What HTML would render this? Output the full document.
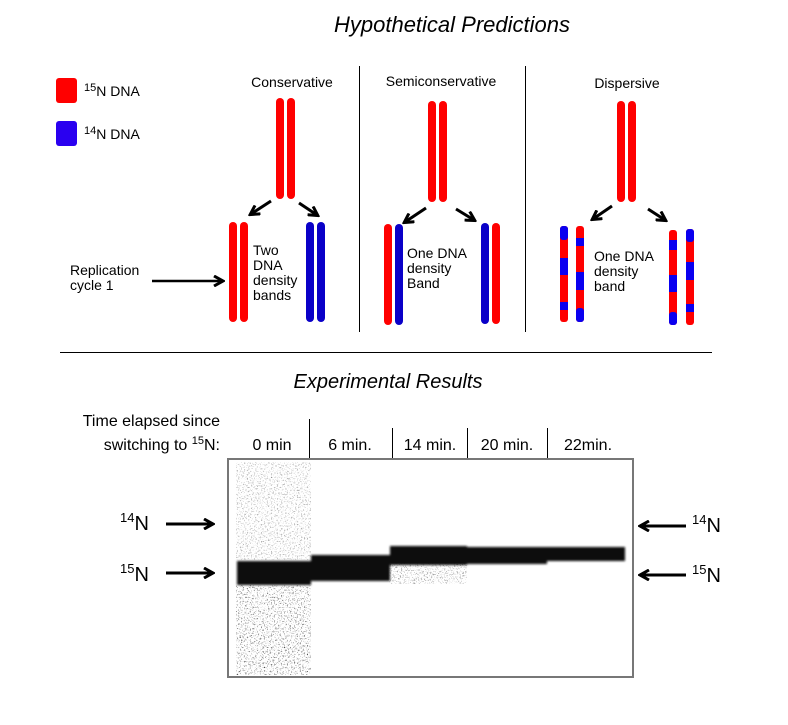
<!DOCTYPE html>
<html><head><meta charset="utf-8"><style>
html,body{margin:0;padding:0;background:#fff}
svg text{font-family:"Liberation Sans",sans-serif}
</style></head><body>
<svg width="788" height="720" viewBox="0 0 788 720" xmlns="http://www.w3.org/2000/svg">
<defs>
<marker id="ah" markerWidth="12" markerHeight="12" refX="9" refY="6" orient="auto" markerUnits="userSpaceOnUse">
<path d="M1,1 L10,6 L1,11" fill="none" stroke="#000" stroke-width="3"/></marker>
<filter id="noise" x="0" y="0" width="100%" height="100%">
<feTurbulence type="fractalNoise" baseFrequency="0.7" numOctaves="2" seed="3"/>
<feColorMatrix type="matrix" values="0 0 0 0 0  0 0 0 0 0  0 0 0 0 0  0 0 0 -3.5 1.55"/>
</filter>
<filter id="bl"><feGaussianBlur stdDeviation="1"/></filter>
</defs>
<rect width="788" height="720" fill="#fff"/>
<text x="452" y="32" font-size="22" font-style="italic" text-anchor="middle">Hypothetical Predictions</text>

<rect x="56" y="78" width="21" height="25" rx="3" fill="#f00"/>
<rect x="56" y="121" width="21" height="25" rx="3" fill="#2a00f0"/>
<text x="84" y="96" font-size="14"><tspan font-size="11" dy="-5">15</tspan><tspan dy="5">N DNA</tspan></text>
<text x="84" y="139" font-size="14"><tspan font-size="11" dy="-5">14</tspan><tspan dy="5">N DNA</tspan></text>
<text x="70" y="275" font-size="14">Replication</text>
<text x="70" y="290" font-size="14">cycle 1</text>
<line x1="152" y1="281" x2="222" y2="281" stroke="#000" stroke-width="2.5" marker-end="url(#ah)"/>

<line x1="359.5" y1="66" x2="359.5" y2="332" stroke="#000" stroke-width="1"/>
<line x1="525.5" y1="66" x2="525.5" y2="332" stroke="#000" stroke-width="1"/>
<line x1="60" y1="352.5" x2="712" y2="352.5" stroke="#000" stroke-width="1"/>

<g font-size="14">
<text x="292" y="87" text-anchor="middle">Conservative</text>
<text x="441" y="86" text-anchor="middle">Semiconservative</text>
<text x="627" y="88" text-anchor="middle">Dispersive</text>
</g>

<g fill="#f00">
<rect x="276" y="98" width="8" height="101" rx="4"/><rect x="287" y="98" width="8" height="101" rx="4"/>
<rect x="229" y="222" width="8" height="100" rx="4"/><rect x="240" y="222" width="8" height="100" rx="4"/>
</g>
<g fill="#0a00c8">
<rect x="306" y="222" width="8" height="100" rx="4"/><rect x="317" y="222" width="8" height="100" rx="4"/>
</g>
<g stroke="#000" stroke-width="3">
<line x1="271" y1="201" x2="251" y2="214" marker-end="url(#ah)"/>
<line x1="299" y1="203" x2="317" y2="215" marker-end="url(#ah)"/>
<line x1="426" y1="208" x2="405" y2="222" marker-end="url(#ah)"/>
<line x1="456" y1="209" x2="474" y2="220" marker-end="url(#ah)"/>
<line x1="612" y1="206" x2="593" y2="219" marker-end="url(#ah)"/>
<line x1="648" y1="209" x2="665" y2="220" marker-end="url(#ah)"/>
</g>
<g font-size="14">
<text x="253" y="255">Two</text><text x="253" y="270">DNA</text><text x="253" y="285">density</text><text x="253" y="300">bands</text>
<text x="407" y="258">One DNA</text><text x="407" y="273">density</text><text x="407" y="288">Band</text>
<text x="594" y="261">One DNA</text><text x="594" y="276">density</text><text x="594" y="291">band</text>
</g>

<g fill="#f00">
<rect x="428" y="101" width="8" height="101" rx="4"/><rect x="439" y="101" width="8" height="101" rx="4"/>
<rect x="384" y="224" width="8" height="101" rx="4"/><rect x="492" y="223" width="8" height="101" rx="4"/>
</g>
<g fill="#0a00c8">
<rect x="395" y="224" width="8" height="101" rx="4"/><rect x="481" y="223" width="8" height="101" rx="4"/>
</g>

<g fill="#f00">
<rect x="617" y="101" width="8" height="101" rx="4"/><rect x="628" y="101" width="8" height="101" rx="4"/>
<rect x="560" y="226" width="8" height="96" rx="3"/><rect x="576" y="226" width="8" height="96" rx="3"/>
<rect x="669" y="230" width="8" height="95" rx="3"/><rect x="686" y="229" width="8" height="96" rx="3"/>
</g>
<g fill="#0a00f0">
<rect x="560" y="226" width="8" height="14" rx="3"/><rect x="560" y="258" width="8" height="17"/><rect x="560" y="302" width="8" height="8"/>
<rect x="576" y="238" width="8" height="8"/><rect x="576" y="272" width="8" height="18"/><rect x="576" y="308" width="8" height="14" rx="3"/>
<rect x="669" y="240" width="8" height="10"/><rect x="669" y="275" width="8" height="17"/><rect x="669" y="312" width="8" height="13" rx="3"/>
<rect x="686" y="229" width="8" height="13" rx="3"/><rect x="686" y="262" width="8" height="18"/><rect x="686" y="304" width="8" height="8"/>
</g>

<text x="388" y="388" font-size="20" font-style="italic" text-anchor="middle">Experimental Results</text>

<g font-size="16">
<text x="220" y="426" text-anchor="end">Time elapsed since</text>
<text x="220" y="450" text-anchor="end">switching to <tspan font-size="11" dy="-6">15</tspan><tspan dy="6">N:</tspan></text>
<text x="272" y="450" text-anchor="middle">0 min</text>
<text x="350" y="450" text-anchor="middle">6 min.</text>
<text x="430" y="450" text-anchor="middle">14 min.</text>
<text x="507" y="450" text-anchor="middle">20 min.</text>
<text x="588" y="450" text-anchor="middle">22min.</text>
</g>
<g stroke="#000" stroke-width="1">
<line x1="309.5" y1="419" x2="309.5" y2="459"/><line x1="392.5" y1="428" x2="392.5" y2="459"/>
<line x1="467.5" y1="428" x2="467.5" y2="459"/><line x1="547.5" y1="428" x2="547.5" y2="459"/>
</g>

<rect x="228" y="459" width="405" height="218" fill="#fff" stroke="#777" stroke-width="2"/>
<rect x="236" y="462" width="75" height="98" fill="#000" filter="url(#noise)" opacity="0.45"/>
<rect x="236" y="585" width="75" height="90" fill="#000" filter="url(#noise)" opacity="0.75"/>
<rect x="389" y="562" width="78" height="22" fill="#000" filter="url(#noise)" opacity="0.6"/>
<g fill="#111" filter="url(#bl)">
<rect x="237" y="561" width="74" height="24"/>
<rect x="311" y="555" width="79" height="26"/>
<rect x="390" y="546" width="77" height="19"/>
<rect x="467" y="547" width="80" height="17"/>
<rect x="547" y="547" width="78" height="14"/>
</g>

<g font-size="20">
<text x="120" y="530"><tspan font-size="13" dy="-8">14</tspan><tspan dy="8">N</tspan></text>
<text x="120" y="581"><tspan font-size="13" dy="-8">15</tspan><tspan dy="8">N</tspan></text>
<text x="692" y="532"><tspan font-size="13" dy="-8">14</tspan><tspan dy="8">N</tspan></text>
<text x="692" y="582"><tspan font-size="13" dy="-8">15</tspan><tspan dy="8">N</tspan></text>
</g>
<g stroke="#000" stroke-width="3">
<line x1="166" y1="524" x2="212" y2="524" marker-end="url(#ah)"/>
<line x1="166" y1="573" x2="212" y2="573" marker-end="url(#ah)"/>
<line x1="686" y1="526" x2="641" y2="526" marker-end="url(#ah)"/>
<line x1="686" y1="575" x2="641" y2="575" marker-end="url(#ah)"/>
</g>
</svg>
</body></html>
